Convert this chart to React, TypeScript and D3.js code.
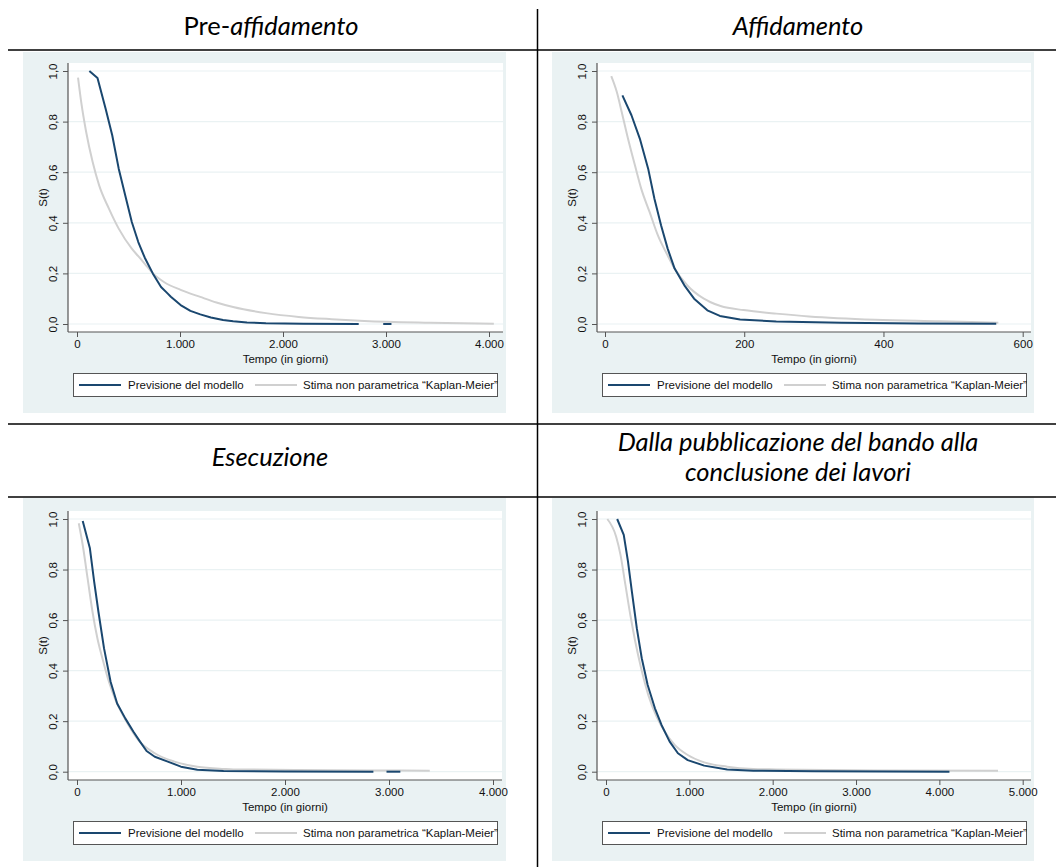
import React, { useEffect, useRef } from 'react';
import * as d3 from 'd3';

// ---- data: [tempo in giorni, S(t)] ----

// Pre-affidamento
const preModel = [[120, 1.0], [199, 0.972], [278, 0.851], [342, 0.746], [405, 0.614], [468, 0.509], [532, 0.403], [595, 0.324], [658, 0.262], [737, 0.199], [816, 0.146], [879, 0.121], [911, 0.108], [1006, 0.075], [1101, 0.052], [1197, 0.038], [1300, 0.026], [1418, 0.016], [1516, 0.011], [1650, 0.006], [1834, 0.003], [2200, 0.001], [2735, 0]];
const preModelTail = [[2973, 0], [3053, 0]];
const preKM = [[10, 0.974], [41, 0.877], [89, 0.759], [152, 0.64], [215, 0.548], [310, 0.456], [405, 0.377], [532, 0.298], [595, 0.268], [658, 0.238], [737, 0.2], [848, 0.165], [1006, 0.135], [1197, 0.107], [1354, 0.085], [1516, 0.067], [1834, 0.043], [2153, 0.028], [2471, 0.019], [2790, 0.012], [3427, 0.005], [4047, 0.001]];

// Affidamento
const affModel = [[25, 0.904], [38, 0.825], [50, 0.733], [62, 0.614], [71, 0.495], [80.5, 0.39], [90, 0.298], [100, 0.219], [114, 0.153], [128, 0.1], [147, 0.054], [165, 0.032], [194, 0.018], [246, 0.01], [340, 0.005], [450, 0.002], [562, 0.001]];
const affKM = [[9, 0.98], [17, 0.917], [24, 0.838], [33, 0.733], [43, 0.627], [52, 0.535], [64, 0.443], [76, 0.35], [90, 0.271], [100, 0.219], [118, 0.153], [142, 0.1], [151, 0.087], [166, 0.071], [199, 0.055], [213, 0.05], [246, 0.041], [293, 0.03], [388, 0.017], [482, 0.011], [565, 0.005]];

// Esecuzione
const esecModel = [[55, 0.992], [124, 0.884], [165, 0.752], [206, 0.633], [260, 0.488], [323, 0.356], [386, 0.27], [464, 0.211], [543, 0.158], [606, 0.119], [669, 0.082], [748, 0.059], [873, 0.04], [999, 0.02], [1157, 0.008], [1409, 0.003], [2000, 0.001], [2850, 0]];
const esecModelTail = [[2976, 0], [3109, 0]];
const esecKM = [[17, 0.983], [55, 0.897], [102, 0.765], [149, 0.633], [196, 0.528], [244, 0.449], [307, 0.356], [370, 0.284], [449, 0.218], [590, 0.125], [748, 0.073], [937, 0.04], [1157, 0.02], [1409, 0.011], [1503, 0.009], [2132, 0.007], [2800, 0.005], [3392, 0.004]];

// Dalla pubblicazione del bando alla conclusione dei lavori
const totModel = [[134, 1.0], [213, 0.937], [264, 0.831], [311, 0.712], [370, 0.567], [429, 0.449], [500, 0.343], [587, 0.251], [666, 0.185], [764, 0.119], [863, 0.073], [981, 0.046], [1178, 0.024], [1454, 0.009], [1769, 0.004], [2500, 0.002], [4121, 0]];
const totKM = [[16, 1.0], [122, 0.93], [174, 0.858], [233, 0.739], [292, 0.62], [351, 0.515], [422, 0.409], [508, 0.303], [607, 0.218], [706, 0.158], [824, 0.106], [981, 0.066], [1178, 0.037], [1454, 0.02], [1769, 0.011], [2045, 0.009], [3227, 0.005], [4704, 0.004]];

const yTicks = [0, 0.2, 0.4, 0.6, 0.8, 1.0];
const xTicks4000 = [0, 1000, 2000, 3000, 4000];
const xTicks600 = [0, 200, 400, 600];
const xTicks5000 = [0, 1000, 2000, 3000, 4000, 5000];

const legendModel = 'Previsione del modello';
const legendKM = 'Stima non parametrica \u201CKaplan-Meier\u201D';
const xTitle = 'Tempo (in giorni)';
const yTitle = 'S(t)';

const navy = '#1a476f';
const kmGrey = '#d0d0d0';
const panelBg = '#eaf2f3';
const axisCol = '#555';
const textCol = '#111';
const statFont = '"Liberation Sans", Arial, sans-serif';
const statSize = 11.5;
const docFont = 'Lato, "Open Sans", sans-serif';

const itLocale = d3.formatLocale({ decimal: ',', thousands: '.', grouping: [3], currency: ['', ' €'] });
const fmtX = itLocale.format(',');
const fmtY = itLocale.format('.1f');

const panels = [
    { model: preModel, tail: preModelTail, km: preKM, xMax: 4000, ticks: xTicks4000,
      bg: [23, 52, 506, 413], axisX: 68, top: 63, right: 503, axisY: 332, x0: 77, x1: 489, y1: 71, y0: 324, legX: 73 },
    { model: affModel, tail: null, km: affKM, xMax: 600, ticks: xTicks600,
      bg: [552, 52, 1034, 413], axisX: 597, top: 63, right: 1031, axisY: 332, x0: 605, x1: 1022.7, y1: 71, y0: 324, legX: 602 },
    { model: esecModel, tail: esecModelTail, km: esecKM, xMax: 4000, ticks: xTicks4000,
      bg: [23, 498, 506, 861], axisX: 68, top: 511, right: 502, axisY: 780, x0: 77, x1: 493, y1: 519, y0: 771.7, legX: 73 },
    { model: totModel, tail: null, km: totKM, xMax: 5000, ticks: xTicks5000,
      bg: [552, 498, 1034, 861], axisX: 597, top: 511, right: 1031, axisY: 780, x0: 606, x1: 1022.7, y1: 519, y0: 771.7, legX: 602 },
];

const statText = (sel) => sel.attr('font-family', statFont).attr('font-size', statSize).attr('fill', textCol);

const drawPanel = (svg, p) => {
    const g = svg.append('g');

    g.append('rect')
     .attr('x', p.bg[0]).attr('y', p.bg[1])
     .attr('width', p.bg[2] - p.bg[0]).attr('height', p.bg[3] - p.bg[1])
     .attr('fill', panelBg);

    g.append('rect')
     .attr('x', p.axisX).attr('y', p.top)
     .attr('width', p.right - p.axisX).attr('height', p.axisY - p.top)
     .attr('fill', '#fff');

    const xScale = d3.scaleLinear().domain([0, p.xMax]).range([p.x0, p.x1]);
    const yScale = d3.scaleLinear().domain([0, 1]).range([p.y0, p.y1]);

    // grid
    g.append('g').selectAll('line')
     .data(yTicks)
     .join('line')
     .attr('x1', p.axisX).attr('x2', p.right)
     .attr('y1', d => yScale(d)).attr('y2', d => yScale(d))
     .attr('stroke', panelBg).attr('stroke-width', 1.2);

    // KM estimate is smooth, the model prediction is a connected line with kinks
    const kmLine = d3.line()
                     .x(d => xScale(d[0]))
                     .y(d => yScale(d[1]))
                     .curve(d3.curveMonotoneX);
    const modelLine = d3.line()
                        .x(d => xScale(d[0]))
                        .y(d => yScale(d[1]));

    g.append('path').attr('d', kmLine(p.km))
     .attr('fill', 'none').attr('stroke', kmGrey).attr('stroke-width', 2);
    g.append('path').attr('d', modelLine(p.model))
     .attr('fill', 'none').attr('stroke', navy).attr('stroke-width', 2)
     .attr('stroke-linejoin', 'round');
    if (p.tail) {
        g.append('path').attr('d', modelLine(p.tail))
         .attr('fill', 'none').attr('stroke', navy).attr('stroke-width', 2);
    }

    // x axis
    const xAxis = g.append('g')
        .attr('transform', 'translate(0,' + p.axisY + ')')
        .call(d3.axisBottom(xScale).tickValues(p.ticks).tickFormat(fmtX).tickSize(5).tickPadding(3));
    xAxis.select('.domain').remove();
    xAxis.selectAll('line').attr('stroke', axisCol);
    xAxis.selectAll('text').call(statText);
    g.append('line')
     .attr('x1', p.axisX).attr('x2', p.right)
     .attr('y1', p.axisY).attr('y2', p.axisY)
     .attr('stroke', axisCol).attr('stroke-width', 1.2);

    // y axis, labels rotated like Stata
    const yAxis = g.append('g')
        .attr('transform', 'translate(' + p.axisX + ',0)')
        .call(d3.axisLeft(yScale).tickValues(yTicks).tickFormat(fmtY).tickSize(5));
    yAxis.select('.domain').remove();
    yAxis.selectAll('line').attr('stroke', axisCol);
    yAxis.selectAll('text')
         .attr('transform', 'rotate(-90)')
         .attr('x', 0).attr('y', -11).attr('dy', null)
         .attr('text-anchor', 'middle')
         .call(statText);
    g.append('line')
     .attr('x1', p.axisX).attr('x2', p.axisX)
     .attr('y1', p.top).attr('y2', p.axisY)
     .attr('stroke', axisCol).attr('stroke-width', 1.2);

    g.append('text')
     .attr('x', (p.axisX + p.right) / 2).attr('y', p.axisY + 31)
     .attr('text-anchor', 'middle')
     .call(statText)
     .text(xTitle);

    g.append('text')
     .attr('transform', 'translate(' + (p.axisX - 21) + ',' + ((p.top + p.axisY) / 2) + ') rotate(-90)')
     .attr('text-anchor', 'middle')
     .call(statText)
     .text(yTitle);

    // legend
    const ly = p.axisY + 41;
    const leg = g.append('g').attr('transform', 'translate(' + p.legX + ',' + ly + ')');
    leg.append('rect')
       .attr('x', 0.5).attr('y', 0.5).attr('width', 424).attr('height', 23)
       .attr('fill', '#fff').attr('stroke', axisCol).attr('stroke-width', 1);
    leg.append('line').attr('x1', 6).attr('x2', 48).attr('y1', 12).attr('y2', 12)
       .attr('stroke', navy).attr('stroke-width', 2);
    leg.append('text').attr('x', 55).attr('y', 16).call(statText).text(legendModel);
    leg.append('line').attr('x1', 182).attr('x2', 224).attr('y1', 12).attr('y2', 12)
       .attr('stroke', kmGrey).attr('stroke-width', 2);
    leg.append('text').attr('x', 230).attr('y', 16).call(statText).text(legendKM);
};

const App = () => {
    const ref = useRef(null);

    useEffect(() => {
        const svg = d3.select(ref.current);
        svg.selectAll('*').remove();

        svg.append('rect').attr('width', 1056).attr('height', 867).attr('fill', '#fff');

        panels.forEach(p => drawPanel(svg, p));

        // table rules of the document
        [50, 424, 497].forEach(y => {
            svg.append('line')
               .attr('x1', 8).attr('x2', 1056).attr('y1', y).attr('y2', y)
               .attr('stroke', '#000').attr('stroke-width', 1.5);
        });
        svg.append('line')
           .attr('x1', 537.5).attr('x2', 537.5).attr('y1', 9).attr('y2', 867)
           .attr('stroke', '#000').attr('stroke-width', 1.5);

        // titles
        const title = (x, y) => svg.append('text')
            .attr('x', x).attr('y', y)
            .attr('text-anchor', 'middle')
            .attr('font-family', docFont).attr('font-size', 25.5).attr('fill', '#000');

        const t1 = title(271, 35);
        t1.append('tspan').text('Pre-');
        t1.append('tspan').attr('font-style', 'italic').text('affidamento');
        title(798, 35).attr('font-style', 'italic').text('Affidamento');
        title(270, 466).attr('font-style', 'italic').text('Esecuzione');
        title(798, 451).attr('font-style', 'italic').text('Dalla pubblicazione del bando alla');
        title(798, 481).attr('font-style', 'italic').text('conclusione dei lavori');
    }, []);

    return (
        <svg ref={ref} width={1056} height={867}
             style={{ position: 'absolute', left: 0, top: 0, display: 'block' }}></svg>
    );
};

export default App;
